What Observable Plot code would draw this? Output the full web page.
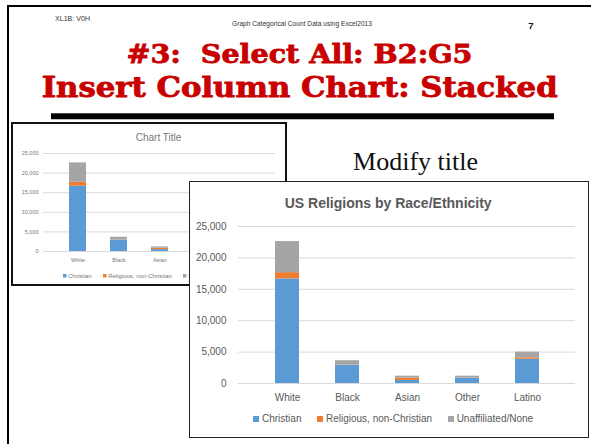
<!DOCTYPE html>
<html><head><meta charset="utf-8">
<script src="https://cdn.jsdelivr.net/npm/d3@7"></script>
<script src="https://cdn.jsdelivr.net/npm/@observablehq/plot@0.6"></script>
<style>
html,body{margin:0;padding:0;background:#fff;}
#slide{position:relative;width:591px;height:444px;overflow:hidden;background:#fff;}
.abs{position:absolute;}
#bg{left:0;top:0;z-index:0;}
#small{left:11px;top:122px;width:276px;height:164px;border:2px solid #111;box-sizing:border-box;background:#fff;z-index:1;}
#big{left:189px;top:181px;width:400px;height:257px;border:1.5px solid #222;box-sizing:border-box;background:#fff;z-index:2;}
.inner{position:absolute;left:0;top:0;}
.lgwrap{position:absolute;}
.lgwrap > div{min-height:0 !important;margin:0 !important;display:flex !important;align-items:center !important;flex-wrap:nowrap !important;}
#bigLegend span{margin-right:15.5px !important;}
#bigLegend span > svg{margin-right:3px !important;}
#smallLegend span{margin-right:11px !important;}
#smallLegend span > svg{margin-right:2px !important;}
.pre{white-space:pre;}
</style>
</head><body>
<div id="slide">
  <svg id="bg" class="abs" width="591" height="444" xmlns="http://www.w3.org/2000/svg">
    <rect x="7" y="5" width="584" height="2" fill="#000"/>
    <rect x="7" y="5" width="2" height="439" fill="#000"/>
    <text x="55" y="20.5" font-family="Liberation Sans, Arial, sans-serif" font-size="6.5" fill="#333" textLength="35" lengthAdjust="spacingAndGlyphs">XL1B: V0H</text>
    <text x="232" y="25.5" font-family="Liberation Sans, Arial, sans-serif" font-size="6.5" fill="#333" textLength="140" lengthAdjust="spacingAndGlyphs">Graph Categorical Count Data using Excel2013</text>
    <text x="531" y="28.5" text-anchor="middle" font-family="Liberation Sans, Arial, sans-serif" font-size="9.5" font-weight="bold" fill="#111">7</text>
    <text class="pre" x="126.5" y="63.3" font-family="DejaVu Serif, serif" font-weight="bold" font-size="26" fill="#C80000" stroke="#C80000" stroke-width="0.8" textLength="346" lengthAdjust="spacingAndGlyphs">#3:  Select All: B2:G5</text>
    <text x="41.7" y="96.7" font-family="DejaVu Serif, serif" font-weight="bold" font-size="27" fill="#C80000" stroke="#C80000" stroke-width="0.8" textLength="516" lengthAdjust="spacingAndGlyphs">Insert Column Chart: Stacked</text>
    <rect x="51" y="119" width="503" height="1" fill="#bbb"/>
    <rect x="51" y="113.3" width="503" height="5.7" fill="#000"/>
    <text x="478" y="170" text-anchor="end" font-family="Liberation Serif, Times New Roman, serif" font-size="26" fill="#111">Modify title</text>
  </svg>
  <div id="small" class="abs">
    <div id="smallPlot" class="inner"></div>
    <svg class="inner" width="272" height="160" style="pointer-events:none">
      <text x="145.5" y="16.5" text-anchor="middle" font-family="Liberation Sans, Arial, sans-serif" font-size="10" fill="#777">Chart Title</text>
    </svg>
    <div id="smallLegend" class="lgwrap" style="left:49.5px;top:148.5px;"></div>
  </div>
  <div id="big" class="abs">
    <div id="bigPlot" class="inner"></div>
    <svg class="inner" width="397" height="254" style="pointer-events:none">
      <text x="198.2" y="25.8" text-anchor="middle" font-family="Liberation Sans, Arial, sans-serif" font-size="14" font-weight="bold" fill="#595959">US Religions by Race/Ethnicity</text>
    </svg>
    <div id="bigLegend" class="lgwrap" style="left:63px;top:231px;"></div>
  </div>
</div>
<script>
// ---- data ----
const categories = ["White", "Black", "Asian", "Other", "Latino"];
const christian = [16650, 2880, 480, 850, 3850];
const religiousNonChristian = [1000, 50, 370, 40, 250];
const unaffiliated = [4950, 700, 320, 280, 900];
const seriesNames = ["Christian", "Religious, non-Christian", "Unaffiliated/None"];
const seriesColors = ["#5B9BD5", "#ED7D31", "#A5A5A5"];
const yTicks = [0, 5000, 10000, 15000, 20000, 25000];

const seriesValues = [christian, religiousNonChristian, unaffiliated];
const table = [];
categories.forEach((c, i) => {
  seriesNames.forEach((s, j) => table.push({race: c, series: s, value: seriesValues[j][i]}));
});

const fmt = d3.format(",");
const font = "Liberation Sans, Arial, sans-serif";

function chart(o) {
  return Plot.plot({
    width: o.width, height: o.height,
    marginLeft: o.ml, marginRight: o.mr, marginTop: o.mt, marginBottom: o.mb,
    x: {domain: categories, padding: o.pad, label: null, tickSize: 0, tickPadding: o.xpad},
    y: {domain: [0, 25000], ticks: yTicks, tickFormat: fmt, label: null, tickSize: 0, tickPadding: o.ypad},
    color: {domain: seriesNames, range: seriesColors},
    style: {fontFamily: font, fontSize: o.fs + "px", color: o.textColor, background: "transparent", overflow: "visible"},
    marks: [
      Plot.gridY(yTicks, {stroke: "#D9D9D9", strokeOpacity: 1, strokeWidth: 1}),
      Plot.barY(table, {x: "race", y: "value", fill: "series"}),
      Plot.ruleY([0], {stroke: "#D9D9D9", strokeWidth: 1})
    ]
  });
}

function legend(o) {
  return Plot.legend({
    color: {domain: seriesNames, range: seriesColors},
    legend: "swatches",
    swatchSize: o.sw,
    style: {fontFamily: font, fontSize: o.fs + "px", color: o.textColor, whiteSpace: "nowrap"}
  });
}

document.getElementById("bigPlot").appendChild(chart({
  width: 397, height: 254, ml: 48, mr: 12, mt: 44, mb: 53, pad: 0.6, xpad: 10, ypad: 12, fs: 10, textColor: "#595959"
}));
document.getElementById("bigLegend").appendChild(legend({sw: 6, fs: 10, textColor: "#595959"}));

document.getElementById("smallPlot").appendChild(chart({
  width: 272, height: 160, ml: 30, mr: 10, mt: 29, mb: 33, pad: 0.59, xpad: 7, ypad: 5, fs: 5.5, textColor: "#777"
}));
document.getElementById("smallLegend").appendChild(legend({sw: 3.5, fs: 6, textColor: "#777"}));
</script>
</body></html>
